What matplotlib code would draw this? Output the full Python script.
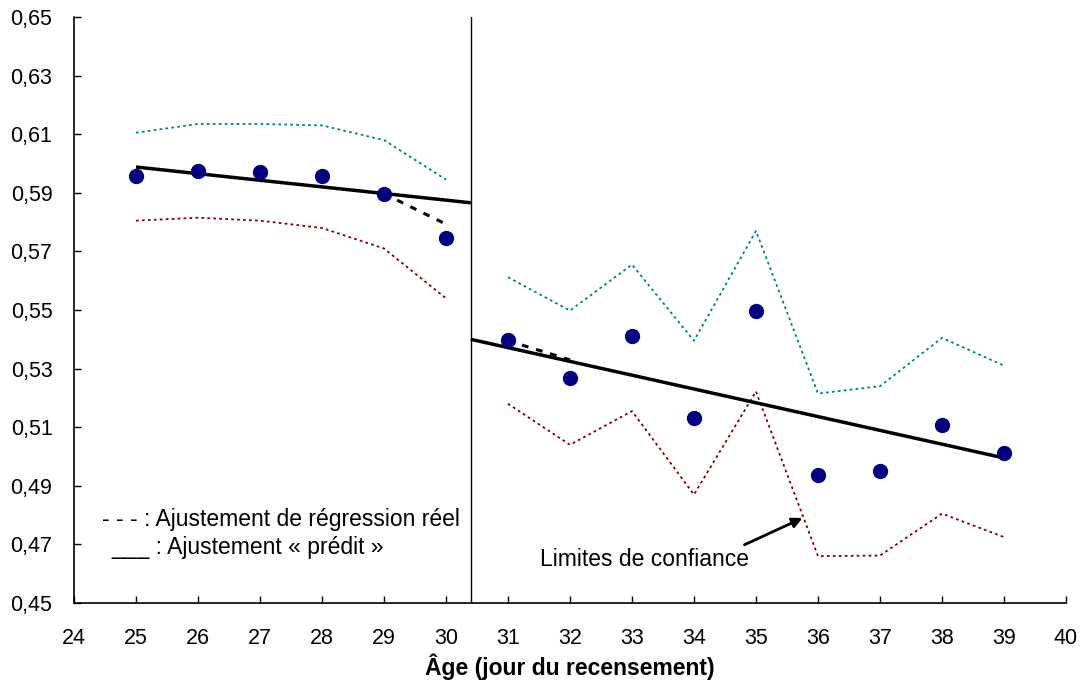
import matplotlib
matplotlib.use("Agg")
import numpy as np
import matplotlib.pyplot as plt
from matplotlib.ticker import FuncFormatter, MultipleLocator, FixedLocator

plt.rcParams['font.family'] = ['Liberation Sans', 'DejaVu Sans']

# Observed values
age_left = [25, 26, 27, 28, 29, 30]
obs_left = [0.5958, 0.5975, 0.5972, 0.5958, 0.5897, 0.5745]
upper_left = [0.6105, 0.6135, 0.6135, 0.6130, 0.6080, 0.5945]
lower_left = [0.5805, 0.5815, 0.5805, 0.5780, 0.5710, 0.5540]

age_right = [31, 32, 33, 34, 35, 36, 37, 38, 39]
obs_right = [0.5397, 0.5268, 0.5410, 0.5130, 0.5497, 0.4937, 0.4950, 0.5107, 0.5013]
upper_right = [0.5612, 0.5498, 0.5655, 0.5395, 0.5770, 0.5215, 0.5240, 0.5405, 0.5310]
lower_right = [0.5180, 0.5040, 0.5155, 0.4870, 0.5222, 0.4660, 0.4662, 0.4805, 0.4725]

# Predicted fit (solid) and actual regression fit (dashed)
pred_left_x = [25, 30.4]
pred_left_y = [0.5988, 0.5866]
pred_right_x = [30.4, 39]
pred_right_y = [0.5400, 0.4995]
real_left_x = [29, 30]
real_left_y = [0.5897, 0.5793]
real_right_x = [31, 32]
real_right_y = [0.5395, 0.5330]

break_x = 30.4
y_ticks = [0.45, 0.47, 0.49, 0.51, 0.53, 0.55, 0.57, 0.59, 0.61, 0.63, 0.65]

fig = plt.figure(figsize=(10.83, 6.89), dpi=100)
ax = fig.add_axes([0.0683, 0.1248, 0.916, 0.8505])

teal = '#008080'
dred = '#800000'
navy = '#000080'
dot_style = (0, (1.5, 1.8))

for xs, up, lo in [(age_left, upper_left, lower_left), (age_right, upper_right, lower_right)]:
    ax.plot(xs, up, color=teal, lw=1.3, ls=dot_style)
    ax.plot(xs, lo, color=dred, lw=1.3, ls=dot_style)

ax.plot(pred_left_x, pred_left_y, color='black', lw=2.5, solid_capstyle='butt')
ax.plot(pred_right_x, pred_right_y, color='black', lw=2.5, solid_capstyle='butt')
ax.plot(real_left_x, real_left_y, color='black', lw=2.2, ls=(0, (2.2, 2.6)))
ax.plot(real_right_x, real_right_y, color='black', lw=2.2, ls=(0, (2.2, 2.6)))

ax.plot(age_left, obs_left, 'o', color=navy, ms=10, zorder=5)
ax.plot(age_right, obs_right, 'o', color=navy, ms=10, zorder=5)

ax.axvline(break_x, color='black', lw=1.0)

ax.set_xlim(24, 40)
ax.set_ylim(0.45, 0.65)
ax.xaxis.set_major_locator(MultipleLocator(1))
ax.yaxis.set_major_locator(FixedLocator(y_ticks))
ax.yaxis.set_major_formatter(FuncFormatter(lambda v, p: f"{v:.2f}".replace('.', ',')))
ax.tick_params(direction='in', length=5, width=1, labelsize=15.5)
ax.tick_params(axis='y', pad=15.5)
ax.tick_params(axis='x', pad=18)
for s in ['top', 'right']:
    ax.spines[s].set_visible(False)
for s in ['left', 'bottom']:
    ax.spines[s].set_linewidth(1.2)

ax.set_xlabel('Âge (jour du recensement)', fontsize=16.5, fontweight='bold', labelpad=3)

ax.text(24.45, 0.4785, '- - - : Ajustement de régression réel', fontsize=16.5, va='center', ha='left')
ax.text(24.6, 0.4690, '___ : Ajustement « prédit »', fontsize=16.5, va='center', ha='left')

ax.annotate('Limites de confiance', xy=(35.75, 0.4790), xytext=(33.2, 0.4650),
            fontsize=16.5, ha='center', va='center',
            arrowprops=dict(arrowstyle='-|>', color='black', lw=2, shrinkA=0, shrinkB=0,
                            relpos=(0.95, 1.0), mutation_scale=15))

fig.savefig('out.png', dpi=100)
